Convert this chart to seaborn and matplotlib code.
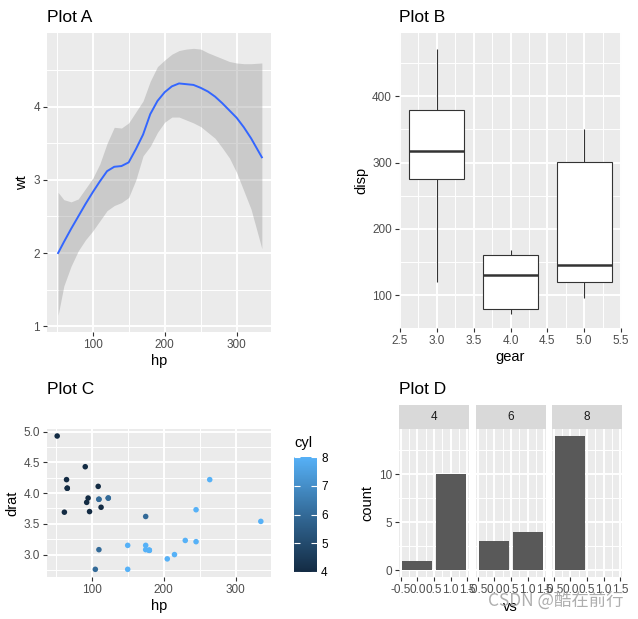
import numpy as np
import pandas as pd
import matplotlib
matplotlib.use("Agg")
import matplotlib.pyplot as plt
from matplotlib.colors import LinearSegmentedColormap, Normalize
from matplotlib.cm import ScalarMappable
from matplotlib.ticker import FixedLocator
import seaborn as sns

# mtcars columns used in the panels
hp = [110, 110, 93, 110, 175, 105, 245, 62, 95, 123, 123, 180, 180, 180, 205, 215,
      230, 66, 52, 65, 97, 150, 150, 245, 175, 66, 91, 113, 264, 175, 335, 109]
disp = [160.0, 160.0, 108.0, 258.0, 360.0, 225.0, 360.0, 146.7, 140.8, 167.6, 167.6,
        275.8, 275.8, 275.8, 472.0, 460.0, 440.0, 78.7, 75.7, 71.1, 120.1, 318.0, 304.0,
        350.0, 400.0, 79.0, 120.3, 95.1, 351.0, 145.0, 301.0, 121.0]
drat = [3.90, 3.90, 3.85, 3.08, 3.15, 2.76, 3.21, 3.69, 3.92, 3.92, 3.92, 3.07, 3.07,
        3.07, 2.93, 3.00, 3.23, 4.08, 4.93, 4.22, 3.70, 2.76, 3.15, 3.73, 3.08, 4.08,
        4.43, 3.77, 4.22, 3.62, 3.54, 4.11]
cyl = [6, 6, 4, 6, 8, 6, 8, 4, 4, 6, 6, 8, 8, 8, 8, 8, 8, 4, 4, 4, 4, 8, 8, 8, 8, 4,
       4, 4, 8, 6, 8, 4]
vs = [0, 0, 1, 1, 0, 1, 0, 1, 1, 1, 1, 0, 0, 0, 0, 0, 0, 1, 1, 1, 1, 0, 0, 0, 0, 1,
      0, 1, 0, 0, 0, 1]
gear = [4, 4, 4, 3, 3, 3, 3, 4, 4, 4, 4, 3, 3, 3, 3, 3, 3, 4, 4, 4, 3, 3, 3, 3, 3, 4,
        5, 5, 5, 5, 5, 4]

# smoothed curve of wt ~ hp
smooth_hp = [52, 60, 70, 80, 90, 100, 110, 120, 130, 140, 150, 160, 170, 180, 190, 200,
             210, 220, 230, 240, 250, 260, 270, 280, 290, 300, 310, 320, 335]
smooth_fit = [2.00, 2.15, 2.33, 2.50, 2.67, 2.83, 2.98, 3.12, 3.18, 3.19, 3.24, 3.42,
              3.62, 3.90, 4.08, 4.20, 4.28, 4.32, 4.31, 4.30, 4.26, 4.21, 4.14, 4.05,
              3.95, 3.85, 3.72, 3.57, 3.31]
smooth_hi = [2.83, 2.73, 2.70, 2.74, 2.88, 3.02, 3.22, 3.50, 3.72, 3.71, 3.78, 3.93,
             4.08, 4.35, 4.55, 4.64, 4.72, 4.77, 4.79, 4.80, 4.79, 4.74, 4.70, 4.66,
             4.62, 4.60, 4.59, 4.59, 4.60]
smooth_lo = [1.15, 1.55, 1.82, 2.03, 2.18, 2.30, 2.44, 2.58, 2.65, 2.69, 2.76, 3.00,
             3.33, 3.46, 3.65, 3.79, 3.86, 3.86, 3.82, 3.78, 3.73, 3.65, 3.57, 3.44,
             3.30, 3.10, 2.85, 2.60, 2.06]

df = pd.DataFrame({"hp": hp, "disp": disp, "drat": drat, "cyl": cyl, "vs": vs, "gear": gear})

plt.rcParams["font.family"] = ["Liberation Sans", "DejaVu Sans"]
plt.rcParams["axes.unicode_minus"] = False

W, H = 638, 619
fig = plt.figure(figsize=(W / 100, H / 100), dpi=100)

TICK = 8.5
LAB = 10.5


def box(x0, y0, x1, y1):
    return [x0 / W, 1 - y1 / H, (x1 - x0) / W, (y1 - y0) / H]


def gg_style(ax, ylabels=True):
    ax.set_facecolor("#EBEBEB")
    for s in ax.spines.values():
        s.set_visible(False)
    ax.grid(True, which="major", color="white", linewidth=1.4)
    ax.grid(True, which="minor", color="white", linewidth=0.7)
    ax.set_axisbelow(True)
    ax.tick_params(which="major", length=3, width=0.8, color="#333333",
                   labelsize=TICK, labelcolor="#4D4D4D", pad=2)
    ax.tick_params(which="minor", length=0)
    if not ylabels:
        ax.tick_params(axis="y", which="major", length=0, labelleft=False)


def title(x, y, s):
    fig.text(x / W, 1 - y / H, s, fontsize=12.5, ha="left", va="center", color="black")


# Plot A
axA = fig.add_axes(box(47, 33, 271, 332))
axA.fill_between(smooth_hp, smooth_lo, smooth_hi, color="#999999", alpha=0.4, linewidth=0)
sns.lineplot(x=smooth_hp, y=smooth_fit, ax=axA, color="#3366FF", linewidth=1.4)
axA.set_xlim(36.6, 347.7)
axA.set_ylim(0.92, 5.01)
axA.xaxis.set_major_locator(FixedLocator([100, 200, 300]))
axA.xaxis.set_minor_locator(FixedLocator([50, 150, 250]))
axA.yaxis.set_major_locator(FixedLocator([1, 2, 3, 4]))
axA.yaxis.set_minor_locator(FixedLocator([1.5, 2.5, 3.5, 4.5]))
gg_style(axA)
axA.set_xlabel("hp", fontsize=LAB, labelpad=2)
axA.set_ylabel("wt", fontsize=LAB, labelpad=3)
title(47, 17, "Plot A")

# Plot B
axB = fig.add_axes(box(399, 33, 622, 328))
sns.boxplot(data=df, x="gear", y="disp", native_scale=True, width=0.75, ax=axB,
            color="white", linecolor="#333333", linewidth=0.8, showcaps=False,
            medianprops=dict(linewidth=1.8))
axB.set_xlim(2.4875, 5.5125)
axB.set_ylim(50.2, 495.6)
axB.xaxis.set_major_locator(FixedLocator([2.5, 3.0, 3.5, 4.0, 4.5, 5.0, 5.5]))
axB.xaxis.set_minor_locator(FixedLocator([2.75, 3.25, 3.75, 4.25, 4.75, 5.25]))
axB.set_xticklabels(["2.5", "3.0", "3.5", "4.0", "4.5", "5.0", "5.5"])
axB.yaxis.set_major_locator(FixedLocator([100, 200, 300, 400]))
axB.yaxis.set_minor_locator(FixedLocator([150, 250, 350, 450]))
gg_style(axB)
axB.set_xlabel("gear", fontsize=LAB, labelpad=2)
axB.set_ylabel("disp", fontsize=LAB, labelpad=3)
title(399, 17, "Plot B")

# Plot C
cmap = LinearSegmentedColormap.from_list("gg", ["#132B43", "#336A98", "#56B1F7"])
axC = fig.add_axes(box(47, 429, 271, 577))
sns.scatterplot(data=df, x="hp", y="drat", hue="cyl", palette=cmap, hue_norm=(4, 8),
                s=16, linewidth=0, legend=False, ax=axC)
axC.set_xlim(37.85, 349.15)
axC.set_ylim(2.635, 5.044)
axC.xaxis.set_major_locator(FixedLocator([100, 200, 300]))
axC.xaxis.set_minor_locator(FixedLocator([50, 150, 250]))
axC.yaxis.set_major_locator(FixedLocator([3.0, 3.5, 4.0, 4.5, 5.0]))
axC.yaxis.set_minor_locator(FixedLocator([2.75, 3.25, 3.75, 4.25, 4.75]))
axC.set_yticklabels(["3.0", "3.5", "4.0", "4.5", "5.0"])
gg_style(axC)
axC.set_xlabel("hp", fontsize=LAB, labelpad=2)
axC.set_ylabel("drat", fontsize=LAB, labelpad=3)
title(47, 389, "Plot C")

cax = fig.add_axes(box(294, 457, 317, 572))
cb = fig.colorbar(ScalarMappable(norm=Normalize(4, 8), cmap=cmap), cax=cax)
cb.outline.set_visible(False)
cb.set_ticks([4, 5, 6, 7, 8])
cax.tick_params(direction="in", color="white", length=4, width=0.8, left=True,
                right=True, labelsize=TICK, labelcolor="black", pad=3)
fig.text(294 / W, 1 - 443 / H, "cyl", fontsize=LAB, ha="left", va="center")

# Plot D
facets = [4, 6, 8]
lefts = [(399, 469), (476, 546), (552, 622)]
for i, (c, (x0, x1)) in enumerate(zip(facets, lefts)):
    ax = fig.add_axes(box(x0, 429, x1, 577))
    sub = df[df["cyl"] == c]
    sns.countplot(data=sub, x="vs", native_scale=True, width=0.9, color="#595959",
                  saturation=1, ax=ax)
    ax.set_xlim(-0.545, 1.545)
    ax.set_ylim(-0.7, 14.7)
    ax.xaxis.set_major_locator(FixedLocator([-0.5, 0.0, 0.5, 1.0, 1.5]))
    ax.xaxis.set_minor_locator(FixedLocator([-0.25, 0.25, 0.75, 1.25]))
    ax.set_xticklabels(["-0.5", "0.0", "0.5", "1.0", "1.5"])
    ax.yaxis.set_major_locator(FixedLocator([0, 5, 10]))
    ax.yaxis.set_minor_locator(FixedLocator([2.5, 7.5, 12.5]))
    gg_style(ax, ylabels=(i == 0))
    ax.set_xlabel("")
    ax.set_ylabel("count" if i == 0 else "", fontsize=LAB, labelpad=3)
    sax = fig.add_axes(box(x0, 405, x1, 429))
    sax.set_facecolor("#D9D9D9")
    sax.set_xticks([])
    sax.set_yticks([])
    for s in sax.spines.values():
        s.set_visible(False)
    sax.text(0.5, 0.5, str(c), fontsize=TICK, color="#1A1A1A", ha="center", va="center",
             transform=sax.transAxes)
fig.text(510 / W, 1 - 607 / H, "vs", fontsize=LAB, ha="center", va="center")
title(399, 389, "Plot D")

fig.text(623 / W, 1 - 601 / H, "CSDN @酷在前行", fontsize=12.5, color="#A0A0A0", alpha=0.85,
         ha="right", va="center", family=["Noto Sans CJK SC", "DejaVu Sans"])

fig.savefig("out.png", dpi=100)
